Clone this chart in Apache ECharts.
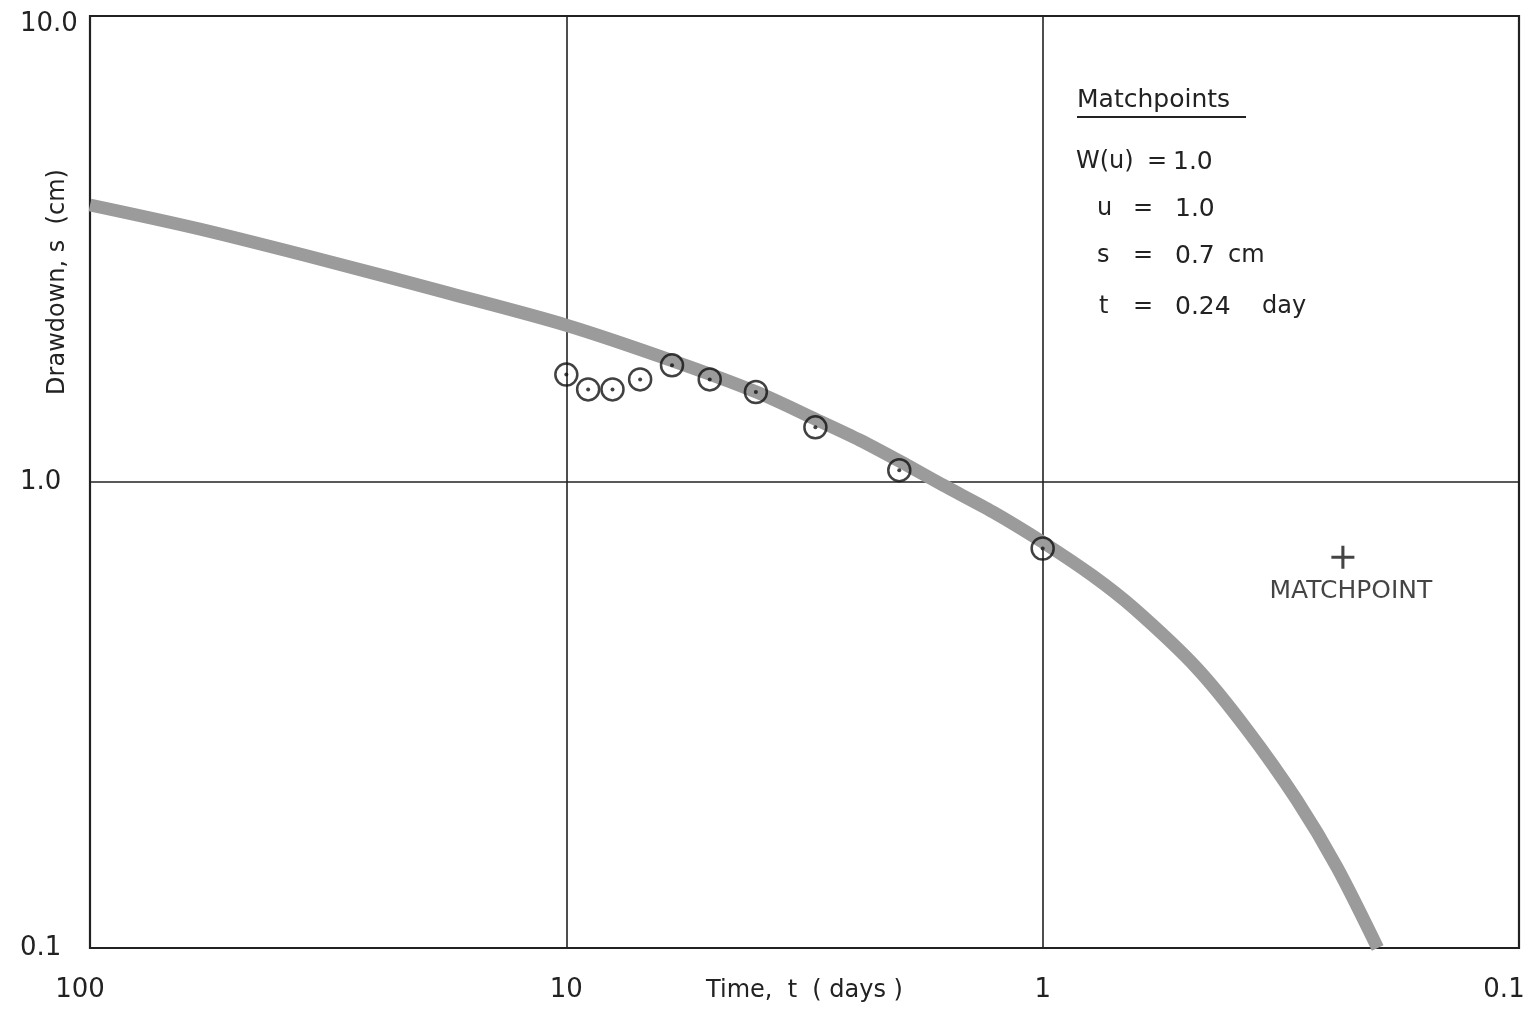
<!DOCTYPE html>
<html><head><meta charset="utf-8">
<script src="https://cdn.jsdelivr.net/npm/echarts@6/dist/echarts.min.js"></script>
<style>html,body{margin:0;padding:0;background:#fff}#c{width:1527px;height:1016px}</style>
</head><body><div id="c"></div>
<script>
// Observed drawdown data (time in days, drawdown in cm)
const obsTime = [10, 9, 8, 7, 6, 5, 4, 3, 2, 1];
const obsDrawdown = [1.70, 1.58, 1.58, 1.66, 1.78, 1.66, 1.56, 1.31, 1.06, 0.72];

// Type curve
const curveTime = [100, 58.9, 31.4, 17.6, 10.0, 5.98, 3.99, 2.98, 2.42, 1.93, 1.62, 1.27, 1.0, 0.785, 0.641, 0.475, 0.373, 0.293, 0.241, 0.198];
const curveDrawdown = [3.93, 3.49, 2.97, 2.54, 2.17, 1.82, 1.56, 1.36, 1.23, 1.088, 0.985, 0.862, 0.743, 0.629, 0.534, 0.399, 0.295, 0.208, 0.149, 0.100];

// Matchpoint
const matchTime = [0.24];
const matchDrawdown = [0.7];

// Tick labels
const xTicks = [100, 10, 1, 0.1];
const xTickLabels = ['100', '10', '1', '0.1'];
const yTicks = [0.1, 1, 10];
const yTickLabels = ['0.1', '1.0', '10.0'];

// Matchpoint table
const mpTitle = 'Matchpoints';
const mpNames = ['W(u)', 'u', 's', 't'];
const mpValues = ['1.0', '1.0', '0.7', '0.24'];
const mpUnits = ['', '', 'cm', 'day'];

const FONT = 'DejaVu Sans';
const INK = '#222';

function findIdx(ticks, v) {
  for (let i = 0; i < ticks.length; i++) {
    if (Math.abs(Math.log10(ticks[i]) - Math.log10(v)) < 1e-6) return i;
  }
  return -1;
}

const chart = echarts.init(document.getElementById('c'), null, {renderer: 'canvas'});

const TFONT = '24px "' + FONT + '"';
const rowsY = [162, 209, 256, 307];
const nameX = [1076, 1097, 1097, 1099];
const eqX = [1147, 1133, 1133, 1133];
const valX = [1173, 1175, 1175, 1175];
const unitX = [0, 0, 1228, 1262];
const graphics = [
  {type: 'text', x: 1077, y: 100, style: {text: mpTitle, font: '25px "' + FONT + '"', fill: INK, verticalAlign: 'middle'}},
  {type: 'line', shape: {x1: 1077, y1: 117, x2: 1246, y2: 117}, style: {stroke: INK, lineWidth: 2}}
];
mpNames.forEach((n, i) => {
  graphics.push({type: 'text', x: nameX[i], y: rowsY[i], style: {text: n, font: TFONT, fill: INK, verticalAlign: 'middle'}});
  graphics.push({type: 'text', x: eqX[i], y: rowsY[i], style: {text: '=', font: TFONT, fill: INK, verticalAlign: 'middle'}});
  graphics.push({type: 'text', x: valX[i], y: rowsY[i], style: {text: mpValues[i], font: '25px "' + FONT + '"', fill: INK, verticalAlign: 'middle'}});
  if (mpUnits[i]) {
    graphics.push({type: 'text', x: unitX[i], y: rowsY[i], style: {text: mpUnits[i], font: TFONT, fill: INK, verticalAlign: 'middle'}});
  }
});

const option = {
  animation: false,
  backgroundColor: '#fff',
  textStyle: {fontFamily: FONT, color: INK},
  grid: {left: 90, right: 8, top: 16, bottom: 68, containLabel: false, outerBoundsMode: 'none',
         show: true, borderColor: INK, borderWidth: 2.2, backgroundColor: '#fff'},
  xAxis: {
    type: 'log', logBase: 10, min: 0.1, max: 100, inverse: true,
    name: 'Time,  t  ( days )', nameLocation: 'middle', nameGap: 31, nameMoveOverlap: false,
    nameTextStyle: {fontSize: 24, color: INK, fontFamily: FONT},
    axisLine: {show: false}, axisTick: {show: false},
    splitLine: {show: true, lineStyle: {color: INK, width: 1.6}},
    axisLabel: {
      show: true, showMinLabel: true, showMaxLabel: true, margin: 29, fontSize: 26, color: INK, fontFamily: FONT,
      formatter: v => {
        const i = findIdx(xTicks, v);
        if (i < 0) return '';
        if (i === 0) return '{l|' + xTickLabels[i] + '}';
        if (i === xTicks.length - 1) return '{r|' + xTickLabels[i] + '}';
        return xTickLabels[i];
      },
      rich: {
        l: {fontSize: 26, color: INK, fontFamily: FONT, padding: [0, 20, 0, 0]},
        r: {fontSize: 26, color: INK, fontFamily: FONT, padding: [0, 30, 0, 0]}
      }
    }
  },
  yAxis: {
    type: 'log', logBase: 10, min: 0.1, max: 10,
    name: 'Drawdown, s  (cm)', nameLocation: 'middle', nameGap: 20, nameMoveOverlap: false,
    nameTextStyle: {fontSize: 24, color: INK, fontFamily: FONT, padding: [0, 0, 0, 400]},
    axisLine: {show: false}, axisTick: {show: false},
    splitLine: {show: true, lineStyle: {color: INK, width: 1.6}},
    axisLabel: {
      show: true, showMinLabel: true, showMaxLabel: true, margin: 70, align: 'left', fontSize: 26, color: INK, fontFamily: FONT,
      formatter: v => {
        const i = findIdx(yTicks, v);
        if (i < 0) return '';
        if (i === yTicks.length - 1) return '{t|' + yTickLabels[i] + '}';
        return yTickLabels[i];
      },
      rich: {t: {fontSize: 26, color: INK, fontFamily: FONT, padding: [16, 0, 0, 0]}}
    }
  },
  series: [
    {
      type: 'line', name: 'Type curve', data: curveTime.map((t, i) => [t, curveDrawdown[i]]),
      showSymbol: false, smooth: 0.3, z: 1,
      lineStyle: {color: '#9b9b9b', width: 13, cap: 'butt'}
    },
    {
      type: 'scatter', name: 'Observed', data: obsTime.map((t, i) => [t, obsDrawdown[i]]),
      symbol: 'circle', symbolSize: 22, z: 3,
      itemStyle: {color: 'rgba(0,0,0,0)', borderColor: '#111', borderWidth: 2.5}
    },
    {
      type: 'scatter', name: 'ObservedDot', data: obsTime.map((t, i) => [t, obsDrawdown[i]]),
      symbol: 'circle', symbolSize: 4, z: 4,
      itemStyle: {color: '#111'}
    },
    {
      type: 'scatter', name: 'Matchpoint', data: matchTime.map((t, i) => [t, matchDrawdown[i]]),
      symbol: 'path://M10.4,0 L13.6,0 L13.6,10.4 L24,10.4 L24,13.6 L13.6,13.6 L13.6,24 L10.4,24 L10.4,13.6 L0,13.6 L0,10.4 L10.4,10.4 Z',
      symbolSize: 23, symbolOffset: [5, 3], z: 4,
      itemStyle: {color: '#151515'},
      label: {show: true, formatter: 'MATCHPOINT', position: 'bottom', distance: 10, offset: [8, 0], fontSize: 25, color: '#151515', fontFamily: FONT}
    }
  ],
  graphic: graphics
};
chart.setOption(option);
</script>
</body></html>
